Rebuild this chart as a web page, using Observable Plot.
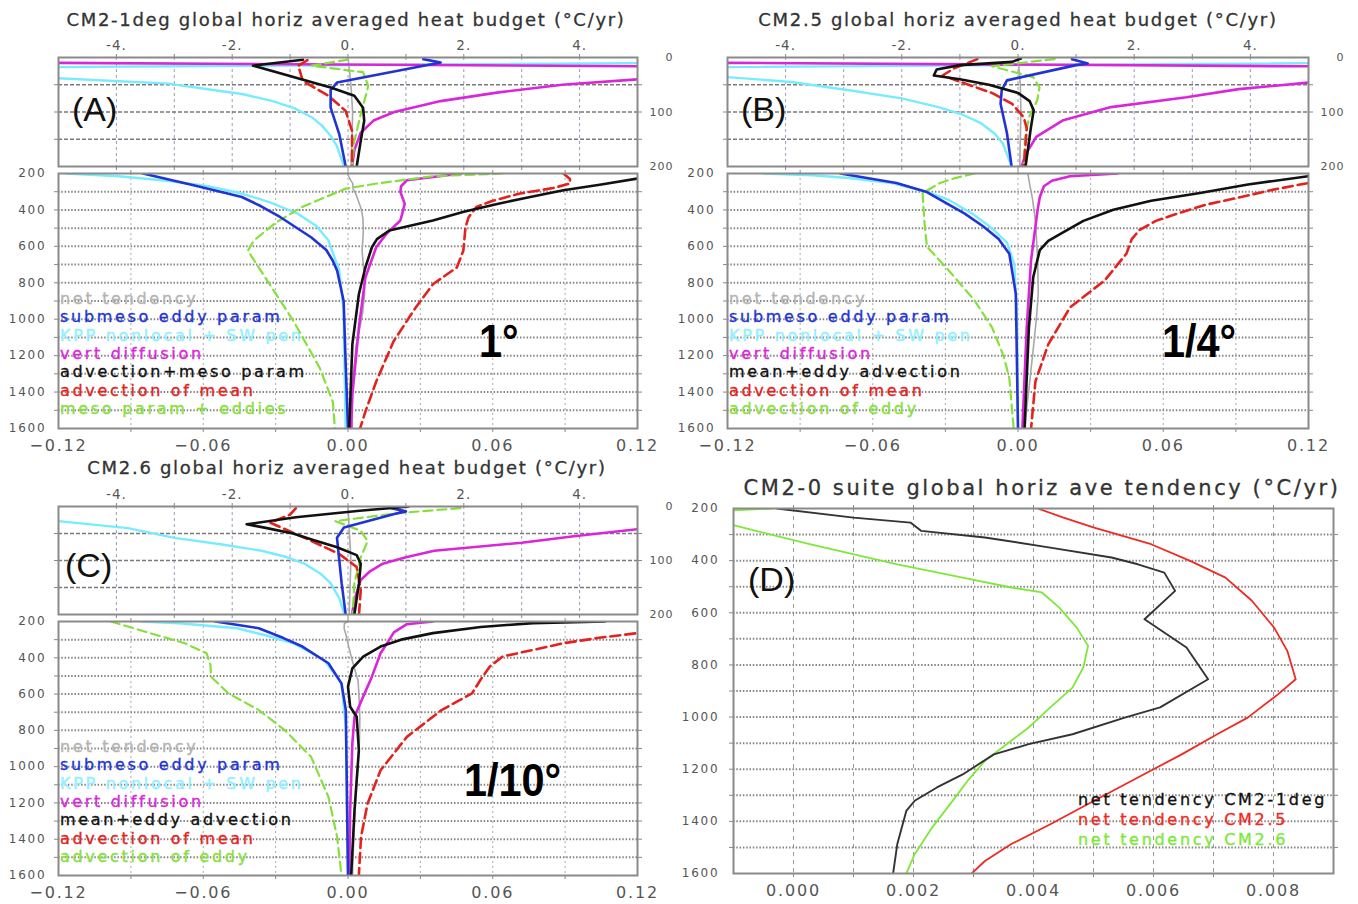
<!DOCTYPE html>
<html><head><meta charset="utf-8">
<script src="https://cdn.jsdelivr.net/npm/d3@7"></script>
<script src="https://cdn.jsdelivr.net/npm/@observablehq/plot@0.6"></script>
<style>
body{margin:0;background:#fff;}
#chart{position:relative;width:1358px;height:904px;overflow:hidden;background:#fff;font-family:"DejaVu Sans",sans-serif;}
#chart svg{position:absolute;max-width:none;}
.t{position:absolute;white-space:nowrap;line-height:1;}
.title{font-size:18px;color:#333;letter-spacing:1.7px;transform:translate(-50%,-50%);-webkit-text-stroke:0.3px #333;}
.titleD{font-size:21px;letter-spacing:2.6px;}
.leg{font-size:16px;letter-spacing:2.7px;line-height:18.2px;-webkit-text-stroke:0.35px currentColor;}
.tag{font-family:"Liberation Sans",Arial,sans-serif;font-size:34px;color:#111;}
.big{font-family:"Liberation Sans Narrow","Liberation Sans",Arial,sans-serif;font-weight:bold;font-size:46px;color:#000;transform:scaleX(0.9);transform-origin:0 0;}
</style></head><body><div id="chart"></div>
<script>
// ---------------- DATA: [depth (m), value] ----------------
// Panel A (CM2-1deg), upper 0-200 m, °C/yr
const aUpGray    = [[0,0.0],[50,0.05],[100,0.08],[150,0.07],[200,0.05]];
const aUpCyan    = [[6,11],[22,-11],[38,-5],[48,-3.1],[60,-2.3],[67,-1.83],[80,-1.3],[93,-0.93],[110,-0.62],[125,-0.45],[145,-0.29],[163,-0.19],[200,-0.07]];
const aUpMagenta = [[6,-11],[20,11],[40,5.0],[50,3.7],[64,2.6],[80,1.6],[100,0.8],[115,0.45],[138,0.22],[170,0.11],[200,0.07]];
const aUpGreen   = [[4,0.0],[15,-0.63],[27,0.26],[52,0.35],[73,0.3],[104,0.22],[153,0.11],[200,0.07]];
const aUpRed     = [[5,-0.7],[15,-0.86],[43,-0.78],[70,-0.34],[98,-0.04],[135,0.07],[200,0.07]];
const aUpBlue    = [[3,1.3],[9,1.6],[46,-0.19],[60,-0.3],[92,-0.3],[141,-0.15],[200,-0.04]];
const aUpBlack   = [[4,-0.78],[15,-1.64],[55,-0.3],[70,0.11],[92,0.26],[116,0.28],[153,0.22],[200,0.15]];
// Panel A, lower 200-1600 m
const aLoCyan    = [[200,-0.117],[215,-0.095],[240,-0.075],[270,-0.058],[310,-0.044],[360,-0.032],[421,-0.0208],[490,-0.013],[568,-0.0081],[734,-0.0036],[955,-0.0018],[1600,-0.001]];
const aLoBlue    = [[200,-0.085],[264,-0.064],[329,-0.044],[380,-0.036],[440,-0.028],[550,-0.0153],[620,-0.009],[679,-0.0063],[734,-0.0045],[900,-0.0018],[1231,-0.001],[1600,0]];
const aLoGreen   = [[200,0.064],[215,0.035],[255,0.012],[283,-0.001],[384,-0.019],[470,-0.03],[568,-0.039],[624,-0.0415],[789,-0.0334],[1010,-0.0226],[1268,-0.0117],[1453,-0.0063],[1600,-0.0054]];
const aLoMagenta = [[200,0.047],[237,0.0244],[270,0.022],[301,0.0217],[366,0.0235],[420,0.0225],[458,0.0217],[530,0.016],[605,0.0117],[771,0.0072],[1047,0.0045],[1416,0.0018],[1600,0.0013]];
const aLoRed     = [[200,0.0893],[230,0.092],[255,0.092],[280,0.085],[310,0.0713],[350,0.06],[384,0.0532],[440,0.05],[495,0.0487],[624,0.0478],[716,0.0451],[808,0.0352],[937,0.028],[1121,0.0189],[1342,0.0117],[1508,0.0072],[1600,0.005]];
const aLoBlack   = [[200,0.16],[228,0.12],[260,0.105],[292,0.0893],[330,0.075],[366,0.0623],[410,0.048],[458,0.0352],[513,0.0171],[560,0.012],[605,0.0099],[716,0.0072],[863,0.0045],[1139,0.0018],[1600,0.0005]];
// Panel B (CM2.5), upper
const bUpGray    = [[0,0.0],[50,0.04],[100,0.05],[200,0.03]];
const bUpCyan    = [[6,11],[22,-11],[36,-5],[45,-3.9],[61,-2.85],[75,-2.0],[91,-1.37],[105,-0.95],[121,-0.63],[140,-0.4],[158,-0.26],[200,-0.11]];
const bUpMagenta = [[6,-11],[20,11],[46,5],[58,3.8],[73,2.9],[91,1.6],[115,0.78],[145,0.32],[176,0.14],[200,0.06]];
const bUpGreen   = [[3,0.63],[16,-0.45],[36,0.26],[55,0.37],[79,0.33],[109,0.19],[150,0.12],[200,0.1]];
const bUpRed     = [[3,-0.7],[20,-1.1],[33,-1.3],[50,-0.85],[65,-0.45],[85,-0.1],[110,0.1],[130,0.15],[200,0.1]];
const bUpBlue    = [[3,0.93],[11,1.2],[14,1.0],[42,-0.19],[60,-0.28],[85,-0.3],[139,-0.19],[200,-0.11]];
const bUpBlack   = [[2,0.05],[8,-0.1],[14,-1.0],[22,-1.4],[33,-1.45],[40,-1.0],[50,-0.5],[65,0.0],[80,0.2],[97,0.27],[130,0.22],[200,0.13]];
// Panel B, lower
const bLoCyan    = [[200,-0.105],[210,-0.085],[225,-0.07],[252,-0.052],[300,-0.038],[344,-0.0287],[420,-0.019],[491,-0.0116],[580,-0.0045],[700,-0.0015],[1000,-0.0004],[1600,0]];
const bLoBlue    = [[200,-0.0734],[252,-0.0502],[300,-0.038],[344,-0.0322],[420,-0.022],[491,-0.0143],[560,-0.008],[640,-0.0036],[861,-0.0009],[1600,0]];
const bLoGreen   = [[200,-0.0179],[225,-0.026],[252,-0.0322],[307,-0.0394],[400,-0.039],[491,-0.0385],[602,-0.0376],[731,-0.0287],[898,-0.0179],[1046,-0.0107],[1200,-0.006],[1322,-0.0036],[1600,-0.0018]];
const bLoMagenta = [[200,0.0412],[215,0.0215],[240,0.014],[270,0.0107],[330,0.009],[399,0.0081],[676,0.0054],[1046,0.0036],[1600,0.0018]];
const bLoRed     = [[200,0.2],[252,0.12],[290,0.105],[326,0.0931],[370,0.078],[418,0.0663],[460,0.057],[510,0.0502],[560,0.047],[640,0.0448],[787,0.0358],[935,0.0215],[1138,0.0125],[1341,0.0072],[1600,0.0054]];
const bLoBlack   = [[200,0.15],[215,0.12],[260,0.095],[307,0.0752],[350,0.055],[399,0.0394],[460,0.027],[529,0.0179],[570,0.0125],[621,0.009],[768,0.0063],[1046,0.0045],[1600,0.0027]];
// Panel C (CM2.6), upper
const cUpGray    = [[0,0.0],[100,0.05],[200,0.02]];
const cUpCyan    = [[5,-40],[15,-12],[27,-5],[40,-3.8],[58,-3.0],[70,-2.2],[82,-1.49],[94,-1.05],[106,-0.75],[124,-0.48],[142,-0.3],[170,-0.15],[197,-0.07]];
const cUpMagenta = [[5,40],[15,12],[42,5],[55,3.9],[67,3.0],[82,1.49],[94,1.0],[106,0.6],[120,0.38],[136,0.22],[173,0.11],[200,0.07]];
const cUpGreen   = [[3,1.94],[12,0.9],[27,-0.22],[45,0.22],[64,0.34],[94,0.22],[142,0.11],[200,0.08]];
const cUpRed     = [[3,-0.9],[15,-1.0],[30,-1.34],[58,-0.75],[88,-0.15],[112,0.15],[155,0.22],[200,0.19]];
const cUpBlue    = [[3,0.75],[9,1.0],[14,0.8],[39,-0.07],[58,-0.19],[100,-0.15],[142,-0.11],[200,-0.04]];
const cUpBlack   = [[0,1.05],[8,0.2],[20,-0.9],[33,-1.75],[40,-1.4],[50,-0.95],[62,-0.6],[75,-0.2],[90,0.15],[106,0.22],[142,0.19],[200,0.11]];
// Panel C, lower
const cLoCyan    = [[200,-0.0857],[210,-0.07],[237,-0.046],[280,-0.033],[320,-0.0226],[412,-0.0099],[541,-0.0027],[781,-0.0009],[1600,0]];
const cLoBlue    = [[200,-0.055],[237,-0.037],[290,-0.027],[338,-0.0189],[430,-0.0081],[541,-0.0027],[688,-0.0009],[1600,0]];
const cLoGreen   = [[200,-0.0983],[264,-0.0821],[320,-0.0677],[375,-0.0586],[440,-0.057],[504,-0.0568],[596,-0.0496],[688,-0.037],[799,-0.0262],[946,-0.0153],[1167,-0.0081],[1388,-0.0045],[1600,-0.0027]];
const cLoMagenta = [[200,0.0352],[215,0.0244],[260,0.019],[301,0.0171],[375,0.0135],[504,0.0099],[614,0.0063],[725,0.0027],[872,0.0018],[1241,0.0009],[1600,0.0005]];
const cLoRed     = [[230,0.15],[264,0.12],[290,0.104],[320,0.0893],[393,0.0641],[449,0.0587],[520,0.055],[596,0.0514],[688,0.0388],[836,0.0244],[1020,0.0135],[1204,0.0081],[1388,0.0054],[1600,0.0045]];
const cLoBlack   = [[200,0.1065],[209,0.0767],[230,0.055],[264,0.0352],[300,0.022],[338,0.0135],[393,0.0063],[458,0.0018],[559,0],[670,0.0009],[725,0.0036],[909,0.0045],[1241,0.0027],[1600,0.0013]];
// Panel D: net tendency, 200-1600 m
const dCM21deg = [[200,-0.00028],[235,0.001],[254,0.00195],[286,0.00213],[311,0.00319],[350,0.00428],[388,0.0053],[414,0.00574],[446,0.00618],[516,0.00636],[625,0.00585],[733,0.00655],[855,0.00691],[963,0.00611],[1002,0.00552],[1066,0.00465],[1104,0.00392],[1143,0.00334],[1220,0.00282],[1270,0.00239],[1321,0.00202],[1360,0.00188],[1487,0.00173],[1600,0.00166]];
const dCM25 = [[200,0.00407],[235,0.0045],[273,0.00501],[337,0.00596],[401,0.00661],[465,0.0072],[554,0.00764],[657,0.00801],[746,0.00823],[855,0.00837],[912,0.00808],[1002,0.00757],[1066,0.00706],[1143,0.00647],[1232,0.00574],[1321,0.00501],[1411,0.00428],[1487,0.00363],[1552,0.00319],[1600,0.00297]];
const dCM26 = [[200,-0.00035],[212,-0.0015],[240,-0.0016],[266,-0.00097],[337,0.00027],[414,0.00173],[465,0.00282],[503,0.00363],[522,0.00414],[580,0.00443],[657,0.00472],[727,0.00491],[810,0.00483],[887,0.00465],[963,0.00428],[1040,0.00392],[1117,0.00348],[1168,0.00319],[1245,0.0029],[1334,0.00261],[1424,0.00231],[1526,0.00202],[1600,0.00188]];

// Text
const titles = ["CM2-1deg global horiz averaged heat budget (°C/yr)", "CM2.5 global horiz averaged heat budget (°C/yr)", "CM2.6 global horiz averaged heat budget (°C/yr)", "CM2-0 suite global horiz ave tendency (°C/yr)"];
const legendA = ["net tendency","submeso eddy param","KPP nonlocal + SW pen","vert diffusion","advection+meso param","advection of mean","meso param + eddies"];
const legendBC = ["net tendency","submeso eddy param","KPP nonlocal + SW pen","vert diffusion","mean+eddy advection","advection of mean","advection of eddy"];
const legendD = ["net tendency CM2-1deg","net tendency CM2.5","net tendency CM2.6"];
const tags = ["(A)","(B)","(C)","(D)"];
const resolutions = ["1°","1/4°","1/10°"];
// Axis ticks
const upperTopTicks = [-4,-2,0,2,4];
const upperRightTicks = [0,100,200];
const upperXGrid = [-4,-3,-2,-1,0,1,2,3,4];
const upperYGrid = [50,100,150];
const lowerBottomTicks = [-0.12,-0.06,0,0.06,0.12];
const lowerLeftTicks = [200,400,600,800,1000,1200,1400,1600];
const lowerXGrid = [-0.09,-0.06,-0.03,0,0.03,0.06,0.09];
const lowerYGrid = [300,400,500,600,700,800,900,1000,1100,1200,1300,1400,1500];
const dBottomTicks = [0,0.002,0.004,0.006,0.008];
const dXGrid = [0,0.001,0.002,0.003,0.004,0.005,0.006,0.007,0.008];

// ---------------- STYLE ----------------
const C = {gray:"#a8a8a8", blue:"#2233d6", cyan:"#78ecff", magenta:"#d926d9", black:"#111111", red:"#e3221e", green:"#86e03c"};
const legColors = ["#b4b4b4", C.blue, "#8ff0ff", C.magenta, "#111", C.red, "#86e03c"];
const chart = document.getElementById("chart");

function series(gray, cyan, magenta, green, red, blue, black) {
  return [
    {d: gray, c: C.gray, w: 1.6},
    {d: cyan, c: C.cyan, w: 2.4},
    {d: magenta, c: C.magenta, w: 2.6},
    {d: green, c: C.green, w: 2.2, dash: "9,5"},
    {d: red, c: C.red, w: 2.6, dash: "10,5"},
    {d: blue, c: C.blue, w: 2.6},
    {d: black, c: C.black, w: 2.6}
  ];
}

function subplot(o) {
  const marks = [
    Plot.ruleX(o.xGrid, {stroke: o.vg[0], strokeWidth: o.vg[1], strokeDasharray: o.vg[2]}),
    Plot.ruleY(o.yGrid, {stroke: o.hg[0], strokeWidth: o.hg[1], strokeDasharray: o.hg[2]}),
    ...o.series.map(s => Plot.line(s.d, {x: d => d[1], y: d => d[0], stroke: s.c, strokeWidth: s.w, strokeDasharray: s.dash, clip: true})),
    Plot.frame({stroke: "#8a8a8a", strokeWidth: 2}),
    Plot.axisX({anchor: "top", ticks: o.xGrid, tickSize: 4, tickFormat: () => "", stroke: "#888"}),
    Plot.axisX({anchor: "bottom", ticks: o.xGrid, tickSize: 4, tickFormat: () => "", stroke: "#888"}),
    Plot.axisY({anchor: "left", ticks: o.yGrid, tickSize: 4, tickFormat: () => "", stroke: "#888"}),
    Plot.axisY({anchor: "right", ticks: o.yGrid, tickSize: 4, tickFormat: () => "", stroke: "#888"}),
    Plot.axisX({anchor: o.xAnchor, ticks: o.xTicks, tickFormat: o.xFormat, tickSize: 0, tickPadding: o.xPad, fontSize: o.xFont, fill: "#555"}),
    Plot.axisY({anchor: o.yAnchor, ticks: o.yTicks, tickFormat: o.yFormat, tickSize: 0, tickPadding: o.yPad, textAnchor: "end", fontSize: o.yFont, fill: "#555"})
  ];
  const svg = Plot.plot({
    width: o.w, height: o.h,
    marginLeft: o.fx[0] - o.left, marginRight: o.left + o.w - o.fx[1],
    marginTop: o.fy[0] - o.top, marginBottom: o.top + o.h - o.fy[1],
    style: {background: "transparent", color: "#555", fontFamily: "DejaVu Sans, sans-serif", letterSpacing: o.ls || "1.5px", overflow: "visible"},
    x: {domain: o.xDomain},
    y: {domain: o.yDomain, reverse: true},
    marks
  });
  svg.style.left = o.left + "px";
  svg.style.top = o.top + "px";
  chart.appendChild(svg);
}

const fmtTop = d => (d < 0 ? "-" : "") + Math.abs(d) + ".";
const fmt2 = d3.format(".2f");
const fmt3 = d3.format(".3f");
const upperGrid = {vg: ["#9a9ab8", 1, "3,3"], hg: ["#7a7a7a", 1.4, "4,2"]};
const lowerGrid = {vg: ["#ababab", 1, "2,3"], hg: ["#858585", 2, "1.5,1.8"]};

function upper(left, fx, fy, top, ser) {
  subplot({left, top, w: 700, h: fy[1] - top + 4, fx, fy, xDomain: [-5, 5], yDomain: [0, 200],
    xGrid: upperXGrid, yGrid: upperYGrid, ...upperGrid, series: ser,
    xAnchor: "top", xTicks: upperTopTicks, xFormat: fmtTop, xPad: 8, xFont: 13.5,
    yAnchor: "right", yTicks: upperRightTicks, yFormat: d => String(d), yPad: 36, yFont: 11, ls: "1px"});
}
function lower(left, fx, fy, top, h, ser) {
  subplot({left, top, w: 700, h, fx, fy, xDomain: [-0.12, 0.12], yDomain: [200, 1600],
    xGrid: lowerXGrid, yGrid: lowerYGrid, ...lowerGrid, series: ser,
    xAnchor: "bottom", xTicks: lowerBottomTicks, xFormat: fmt2, xPad: 11, xFont: 16,
    yAnchor: "left", yTicks: lowerLeftTicks, yFormat: d => String(d), yPad: 12, yFont: 12, ls: "1.8px"});
}

// Panel A
upper(0, [58, 637], [57, 166], 30, series(aUpGray, aUpCyan, aUpMagenta, aUpGreen, aUpRed, aUpBlue, aUpBlack));
lower(0, [58, 637], [173, 428], 160, 300, series(dCM21deg, aLoCyan, aLoMagenta, aLoGreen, aLoRed, aLoBlue, aLoBlack));
// Panel B
upper(658, [727, 1308], [57, 166], 30, series(bUpGray, bUpCyan, bUpMagenta, bUpGreen, bUpRed, bUpBlue, bUpBlack));
lower(658, [727, 1308], [173, 428], 160, 300, series(dCM25, bLoCyan, bLoMagenta, bLoGreen, bLoRed, bLoBlue, bLoBlack));
// Panel C
upper(0, [58, 637], [506, 614], 478, series(cUpGray, cUpCyan, cUpMagenta, cUpGreen, cUpRed, cUpBlue, cUpBlack));
lower(0, [58, 637], [621, 875], 608, 296, series(dCM26, cLoCyan, cLoMagenta, cLoGreen, cLoRed, cLoBlue, cLoBlack));
// Panel D
subplot({left: 658, top: 495, w: 700, h: 409, fx: [733, 1333], fy: [508, 873], xDomain: [-0.001, 0.009], yDomain: [200, 1600],
  xGrid: dXGrid, yGrid: lowerYGrid, vg: ["#9a9a9a", 1, "4,4"], hg: ["#858585", 2, "1.5,1.8"],
  series: [{d: dCM26, c: "#7ee83a", w: 1.8}, {d: dCM25, c: "#ee2a22", w: 1.8}, {d: dCM21deg, c: "#333", w: 1.9}],
  xAnchor: "bottom", xTicks: dBottomTicks, xFormat: fmt3, xPad: 11, xFont: 16,
  yAnchor: "left", yTicks: lowerLeftTicks, yFormat: d => String(d), yPad: 14, yFont: 12, ls: "1.8px"});

// ---------------- TEXT OVERLAYS ----------------
function addText(cls, txt, x, y, color) {
  const el = document.createElement("div");
  el.className = "t " + cls;
  el.textContent = txt;
  el.style.left = x + "px";
  el.style.top = y + "px";
  if (color) el.style.color = color;
  chart.appendChild(el);
  return el;
}
addText("title", titles[0], 346, 20);
addText("title", titles[1], 1018, 20);
addText("title", titles[2], 347, 468);
addText("title titleD", titles[3], 1042, 488);

addText("tag", tags[0], 72, 92);
addText("tag", tags[1], 741, 92);
addText("tag", tags[2], 65, 548);
addText("tag", tags[3], 748, 562);

addText("big", resolutions[0], 479, 318);
addText("big", resolutions[1], 1162, 318);
addText("big", resolutions[2], 464, 757);

function legend(lines, x, y0) {
  lines.forEach((s, i) => addText("leg", s, x, y0 + i * 18.3, legColors[i]));
}
legend(legendA, 60, 290);
legend(legendBC, 729, 290);
legend(legendBC, 60, 738);
const dLegColors = ["#111", "#ee2a22", "#7ee83a"];
legendD.forEach((s, i) => addText("leg", s, 1078, 791 + i * 20, dLegColors[i]));
</script></body></html>
